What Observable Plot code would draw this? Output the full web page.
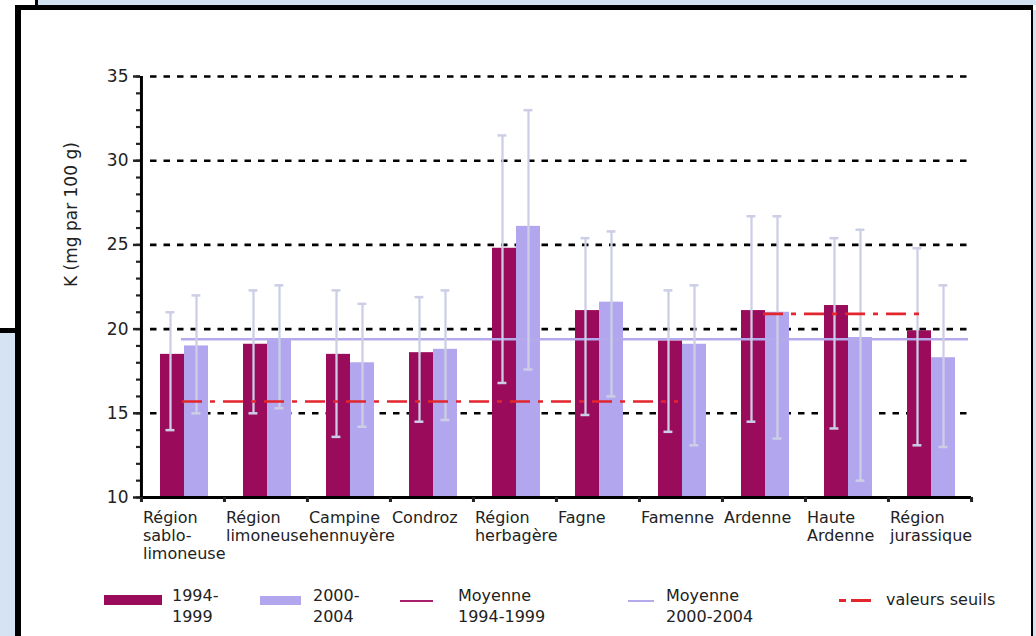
<!DOCTYPE html>
<html>
<head>
<meta charset="utf-8">
<script src="https://cdn.jsdelivr.net/npm/d3@7"></script>
<script src="https://cdn.jsdelivr.net/npm/@observablehq/plot@0.6"></script>
<style>
  html, body { margin: 0; padding: 0; background: #ffffff; width: 1036px; height: 636px; overflow: hidden; }
  #wrap { position: relative; width: 1036px; height: 636px; font-family: "DejaVu Sans", sans-serif; color: #222; }
  #chart { position: absolute; left: 0; top: 0; }
  .deco { position: absolute; }
  .lg { position: absolute; font-size: 16px; line-height: 21px; color: #222; white-space: nowrap; }
  .sw { position: absolute; }
</style>
</head>
<body>
<div id="wrap">
  <div id="chart"></div>
  <!-- scan frame decorations -->
  <div class="deco" style="left:38px;top:0;width:998px;height:5px;background:#d3e2f2;"></div>
  <div class="deco" style="left:35px;top:0;width:3px;height:10px;background:#000;"></div>
  <div class="deco" style="left:15px;top:5px;width:1018px;height:5px;background:#000;"></div>
  <div class="deco" style="left:15px;top:5px;width:6px;height:631px;background:#000;"></div>
  <div class="deco" style="left:1031px;top:5px;width:2px;height:631px;background:#000;"></div>
  <div class="deco" style="left:1033px;top:10px;width:3px;height:626px;background:#d3e2f2;"></div>
  <div class="deco" style="left:0;top:328px;width:15px;height:5px;background:#000;"></div>
  <div class="deco" style="left:0;top:333px;width:15px;height:303px;background:#d5e3f3;"></div>
  <!-- legend -->
  <div class="sw" style="left:104px;top:595px;width:58px;height:10px;background:#9b0b5c;"></div>
  <div class="lg" style="left:172px;top:585px;">1994-<br>1999</div>
  <div class="sw" style="left:260px;top:596px;width:41px;height:9px;background:#b2a7ee;"></div>
  <div class="lg" style="left:313px;top:585px;">2000-<br>2004</div>
  <div class="sw" style="left:400px;top:600px;width:33px;height:2px;background:#a8206c;"></div>
  <div class="lg" style="left:458px;top:585px;">Moyenne<br>1994-1999</div>
  <div class="sw" style="left:628px;top:600px;width:26px;height:2px;background:#b4a9ea;"></div>
  <div class="lg" style="left:666px;top:585px;">Moyenne<br>2000-2004</div>
  <div class="sw" style="left:839px;top:599px;width:7px;height:2.5px;background:#e3262e;"></div>
  <div class="sw" style="left:851px;top:599px;width:20px;height:2.5px;background:#e3262e;"></div>
  <div class="lg" style="left:886px;top:589px;">valeurs seuils</div>
</div>
<script>
// ---- data ----
const regions = ["Région sablo-limoneuse", "Région limoneuse", "Campine hennuyère", "Condroz", "Région herbagère", "Fagne", "Famenne", "Ardenne", "Haute Ardenne", "Région jurassique"];
const regionLabels = ["Région\nsablo-\nlimoneuse", "Région\nlimoneuse", "Campine\nhennuyère", "Condroz", "Région\nherbagère", "Fagne", "Famenne", "Ardenne", "Haute\nArdenne", "Région\njurassique"];
const mean1994 = [18.5, 19.1, 18.5, 18.6, 24.8, 21.1, 19.3, 21.1, 21.4, 19.9];
const high1994 = [21.0, 22.3, 22.3, 21.9, 31.5, 25.4, 22.3, 26.7, 25.4, 24.8];
const low1994  = [14.0, 15.0, 13.6, 14.5, 16.8, 14.9, 13.9, 14.5, 14.1, 13.1];
const mean2000 = [19.0, 19.4, 18.0, 18.8, 26.1, 21.6, 19.1, 21.0, 19.5, 18.3];
const high2000 = [22.0, 22.6, 21.5, 22.3, 33.0, 25.8, 22.6, 26.7, 25.9, 22.6];
const low2000  = [15.0, 15.3, 14.2, 14.6, 17.6, 16.0, 13.1, 13.5, 11.0, 13.0];
const overallMean2000 = [19.4];
const thresholdStart = ["Région sablo-limoneuse", "Ardenne"];
const thresholdEnd = ["Famenne", "Région jurassique"];
const thresholdValue = [15.7, 20.9];
const yTicks = [10, 15, 20, 25, 30, 35];
const yMinorTicks = d3.range(10, 36, 1);
const yGrid = [15, 20, 25, 30, 35];
const yTitle = "K (mg par 100 g)";

// ---- tables built from arrays ----
const rows = regions.map((r, i) => ({
  region: r, label: regionLabels[i],
  m94: mean1994[i], hi94: high1994[i], lo94: low1994[i],
  m00: mean2000[i], hi00: high2000[i], lo00: low2000[i]
}));
const thresholds = thresholdValue.map((v, i) => ({start: thresholdStart[i], end: thresholdEnd[i], value: v}));

const W = 1036, H = 575, ML = 140, MR = 65, MT = 76, MB = 78;
const bw = (W - ML - MR) / regions.length;
const font = "DejaVu Sans, sans-serif";
const C94 = "#9b0b5c", C00 = "#b2a7ee", CERR = "#ccceE6", CMEAN = "#b4a9ea", CRED = "#e3262e";

const plot = Plot.plot({
  width: W, height: H,
  marginLeft: ML, marginRight: MR, marginTop: MT, marginBottom: MB,
  style: {background: "transparent", fontFamily: font, color: "#222", overflow: "visible"},
  x: {type: "band", domain: regions, paddingInner: 0, paddingOuter: 0},
  y: {domain: [10, 35]},
  marks: [
    // dashed grid
    Plot.ruleY(yGrid, {stroke: "#000", strokeWidth: 2.6, strokeDasharray: "6.5,7", insetLeft: 10, insetRight: 2}),
    // bars
    Plot.barY(rows, {x: "region", y1: 10, y2: "m94", fill: C94, insetLeft: 19, insetRight: 40}),
    Plot.barY(rows, {x: "region", y1: 10, y2: "m00", fill: C00, insetLeft: 43, insetRight: 16}),
    // overall mean 2000-2004
    Plot.ruleY(overallMean2000, {y: d => d, x1: () => regions[0], x2: () => regions[regions.length - 1], insetLeft: 40, insetRight: 3, stroke: CMEAN, strokeWidth: 2.5}),
    // error bars
    Plot.ruleX(rows, {x: "region", y1: "lo94", y2: "hi94", dx: -12.5, stroke: CERR, strokeWidth: 2.3}),
    Plot.ruleX(rows, {x: "region", y1: "lo00", y2: "hi00", dx: 13.5, stroke: CERR, strokeWidth: 2.3}),
    Plot.tickY(rows, {x: "region", y: "hi94", insetLeft: 24.5, insetRight: bw - 33.5, stroke: CERR, strokeWidth: 2.5}),
    Plot.tickY(rows, {x: "region", y: "lo94", insetLeft: 24.5, insetRight: bw - 33.5, stroke: CERR, strokeWidth: 2.5}),
    Plot.tickY(rows, {x: "region", y: "hi00", insetLeft: 50.5, insetRight: bw - 59.5, stroke: CERR, strokeWidth: 2.5}),
    Plot.tickY(rows, {x: "region", y: "lo00", insetLeft: 50.5, insetRight: bw - 59.5, stroke: CERR, strokeWidth: 2.5}),
    // threshold values
    Plot.ruleY(thresholds, {y: "value", x1: "start", x2: "end", insetLeft: 41, insetRight: 44, stroke: CRED, strokeWidth: 2.7, strokeDasharray: "20,8,5,8"}),
    // axes
    Plot.ruleY([10], {stroke: "#000", strokeWidth: 3}),
    Plot.ruleX([regions[0]], {x: d => d, y1: 10, y2: 35, dx: -bw / 2, stroke: "#000", strokeWidth: 3}),
    Plot.axisY({ticks: yMinorTicks, tickSize: 4, tickFormat: () => "", strokeWidth: 2.2, label: null}),
    Plot.axisY({ticks: yTicks, tickSize: 7, tickPadding: 5, fontSize: 17, strokeWidth: 2.5, label: null, fill: "#222"}),
    Plot.axisX({tickSize: 5, tickFormat: () => "", dx: -bw / 2, strokeWidth: 3, label: null}),
    Plot.axisX({ticks: [regions[regions.length - 1]], tickSize: 5, tickFormat: () => "", dx: bw / 2, strokeWidth: 3, label: null}),
    Plot.text(rows, {x: "region", y: 10, text: "label", textAnchor: "start", lineAnchor: "top", dx: -bw / 2 + 1.5, dy: 13, fontSize: 16, lineHeight: 1.13, fill: "#222"}),
    Plot.text([yTitle], {frameAnchor: "left", rotate: -90, dx: -69, fontSize: 17, fill: "#222"})
  ]
});
document.getElementById("chart").appendChild(plot);
</script>
</body>
</html>
